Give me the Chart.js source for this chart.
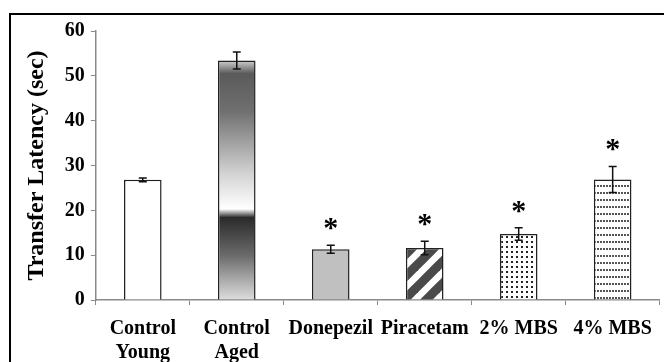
<!DOCTYPE html>
<html lang="en">
  <head>
    <meta charset="UTF-8" />
    <title>Transfer Latency</title>
    <script src="https://cdn.jsdelivr.net/npm/chart.js"></script>
    <style>
      body {
        margin: 0;
        background: #fff;
      }
      .wrap {
        position: relative;
        width: 664px;
        height: 362px;
      }
      .frame {
        position: absolute;
        left: 9px;
        top: 13px;
        width: 670px;
        height: 370px;
        border: 2px solid #000;
        pointer-events: none;
      }
    </style>
  </head>
  <body>
    <div class="wrap">
      <canvas id="latencyChart" width="664" height="362"></canvas>
      <div class="frame"></div>
    </div>

    <script>
      const groups = [["Control", "Young"], ["Control", "Aged"], "Donepezil", "Piracetam", "2% MBS", "4% MBS"];
      const latency = [26.8, 53.4, 11.3, 11.6, 14.7, 26.9];
      const sem = [0.4, 1.9, 0.9, 1.5, 1.4, 2.9];
      const significant = [false, false, true, true, true, true];
      const yTicks = [0, 10, 20, 30, 40, 50, 60];

      function tile(w, h, draw) {
        const c = document.createElement("canvas");
        c.width = w;
        c.height = h;
        const g = c.getContext("2d");
        g.fillStyle = "#fff";
        g.fillRect(0, 0, w, h);
        draw(g);
        return g.createPattern(c, "repeat");
      }

      const stripes = tile(22, 22, (g) => {
        g.strokeStyle = "#4a4a4a";
        g.lineWidth = 9;
        for (let k = -1; k <= 1; k++) {
          g.beginPath();
          g.moveTo(-11 + k * 22, 33);
          g.lineTo(33 + k * 22, -11);
          g.stroke();
        }
      });

      const dots = tile(5, 5, (g) => {
        g.fillStyle = "#222";
        g.fillRect(1, 1, 2, 2);
      });

      const dashes = tile(3, 7, (g) => {
        g.fillStyle = "#555";
        g.fillRect(0, 3, 2, 2);
      });

      const fills = ["#ffffff", "#777777", "#c0c0c0", stripes, dots, dashes];

      // shaded fill of the "Control Aged" bar, built once the y scale is laid out
      function agedGradient(chart) {
        const y = chart.scales.y;
        const top = y.getPixelForValue(latency[1]);
        const bot = y.getPixelForValue(0);
        const grad = chart.ctx.createLinearGradient(0, top, 0, bot);
        const at = (v) => Math.min(1, Math.max(0, (y.getPixelForValue(v) - top) / (bot - top)));
        grad.addColorStop(0, "#d0d0d0");
        grad.addColorStop(at(50.5), "#5a5a5a");
        grad.addColorStop(at(42), "#707070");
        grad.addColorStop(at(28), "#d4d4d4");
        grad.addColorStop(at(20.3), "#ffffff");
        grad.addColorStop(at(18.4), "#2a2a2a");
        grad.addColorStop(at(10), "#6a6a6a");
        grad.addColorStop(1, "#dedede");
        return grad;
      }

      const errorBars = {
        id: "errorBars",
        afterDatasetsDraw(chart) {
          const ctx = chart.ctx;
          const y = chart.scales.y;
          const meta = chart.getDatasetMeta(0);
          ctx.save();
          ctx.strokeStyle = "#111";
          ctx.lineWidth = 1.5;
          meta.data.forEach((bar, i) => {
            const hi = y.getPixelForValue(latency[i] + sem[i]);
            const lo = y.getPixelForValue(latency[i] - sem[i]);
            ctx.beginPath();
            ctx.moveTo(bar.x, hi);
            ctx.lineTo(bar.x, lo);
            ctx.moveTo(bar.x - 4, hi);
            ctx.lineTo(bar.x + 4, hi);
            ctx.moveTo(bar.x - 4, lo);
            ctx.lineTo(bar.x + 4, lo);
            ctx.stroke();
            if (significant[i]) {
              ctx.fillStyle = "#000";
              ctx.font = "bold 30px 'Liberation Serif'";
              ctx.textAlign = "center";
              ctx.textBaseline = "middle";
              ctx.fillText("*", bar.x, hi - 16);
            }
          });
          ctx.restore();
        },
      };

      const font = { family: "'Liberation Serif', serif", weight: "bold", size: 20, lineHeight: 1.2 };

      const chart = new Chart(document.getElementById("latencyChart"), {
        type: "bar",
        data: {
          labels: groups,
          datasets: [
            {
              data: latency,
              backgroundColor: fills,
              borderColor: "#222",
              borderWidth: 1.5,
              borderSkipped: "bottom",
              barPercentage: 0.4,
              categoryPercentage: 1,
            },
          ],
        },
        options: {
          responsive: false,
          animation: false,
          layout: { padding: { left: 22, right: 2, top: 31, bottom: -15 } },
          plugins: {
            legend: { display: false },
            tooltip: { enabled: false },
          },
          scales: {
            x: {
              grid: {
                display: true,
                drawOnChartArea: false,
                offset: true,
                tickLength: 5,
                color: "#8a8a8a",
              },
              border: { color: "#8a8a8a", width: 1.5 },
              ticks: { color: "#000", font: font, maxRotation: 0, padding: 12 },
            },
            y: {
              min: 0,
              max: 60,
              afterBuildTicks: (axis) => {
                axis.ticks = yTicks.map((v) => ({ value: v }));
              },
              grid: {
                display: true,
                drawOnChartArea: false,
                tickLength: 5,
                color: "#8a8a8a",
              },
              border: { color: "#8a8a8a", width: 1.5 },
              ticks: { color: "#000", font: font, padding: 6 },
              title: {
                display: true,
                text: "Transfer Latency (sec)",
                color: "#000",
                font: { family: "'Liberation Serif', serif", weight: "bold", size: 24 },
                padding: { top: 0, bottom: 8 },
              },
            },
          },
        },
        plugins: [errorBars],
      });

      chart.data.datasets[0].backgroundColor[1] = agedGradient(chart);
      chart.update();
    </script>
  </body>
</html>
